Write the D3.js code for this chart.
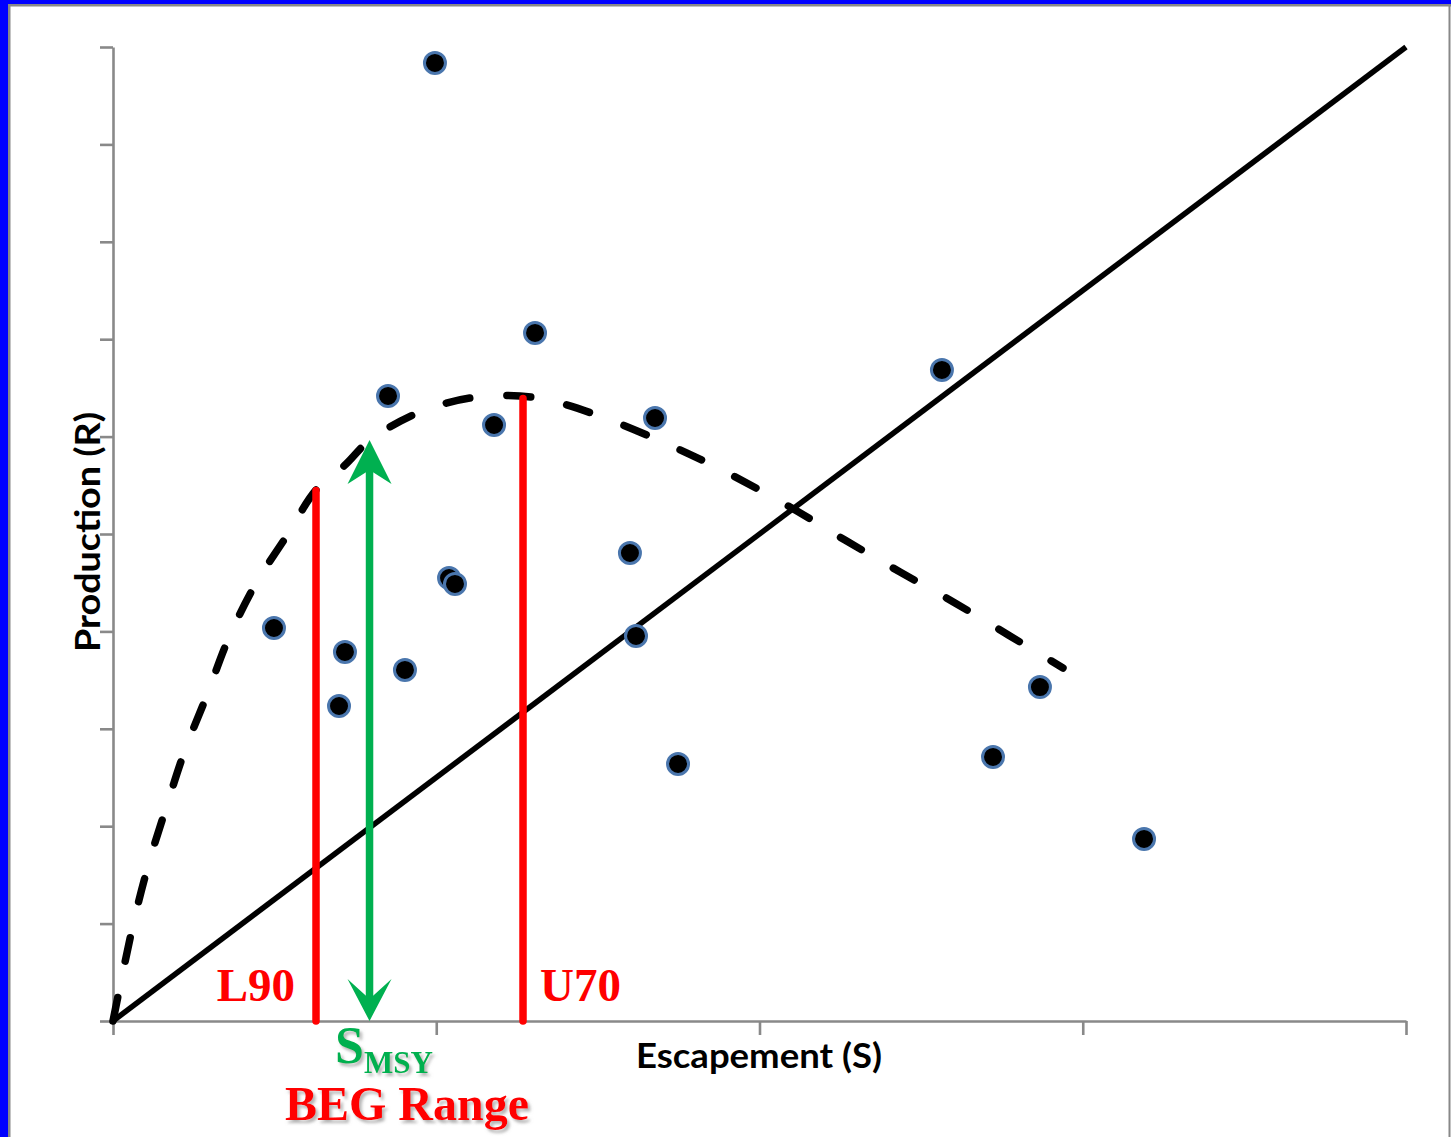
<!DOCTYPE html>
<html><head><meta charset="utf-8">
<script src="https://cdn.jsdelivr.net/npm/d3@7"></script>
<style>
html,body{margin:0;padding:0;background:#fff;}
svg{display:block;}
</style></head>
<body>
<script>
// ---- data ----
const escapement = [2490,3264,2127,2947,4192,6411,3998,2599,2645,1245,1794,2258,1748,4045,4370,6806,7169,7974];
const production = [9836,7064,6417,6119,6191,6684,4805,4548,4487,4035,3789,3604,3234,3953,2639,2711,3429,1869];
// fitted curve
const curveS = [0,155,271,410,557,727,889,1098,1353,1570,1794,1988,2374,2761,3148,3457,3844,4269,4694,5236,5661,6087,6512,6937,7347];
const curveR = [0,986,1591,2187,2782,3347,3912,4476,5000,5452,5708,5965,6253,6396,6417,6345,6170,5934,5667,5277,4938,4610,4292,3953,3624];
// replacement line
const replS = [0,10000];
const replR = [0,10000];
// goal markers
const goalNames = ["L90","SMSY","U70"];
const goalS = [1570,1984,3171];
const goalTopR = [5447,5965,6391];
// ticks
const xTicks = [0,2500,5000,7500,10000];
const yTicks = [0,1000,2000,3000,4000,5000,6000,7000,8000,9000,10000];

const W = 1451, H = 1137;
const svg = d3.select("body").append("svg").attr("width", W).attr("height", H);

const defs = svg.append("defs");
const f = defs.append("filter").attr("id","shadow").attr("x","-10%").attr("y","-20%").attr("width","130%").attr("height","160%");
f.append("feDropShadow").attr("dx",2.5).attr("dy",3).attr("stdDeviation",1.6).attr("flood-color","#777").attr("flood-opacity",0.55);

// frame
svg.append("rect").attr("x",0).attr("y",0).attr("width",W).attr("height",H).attr("fill","#fff");
svg.append("rect").attr("x",0).attr("y",0).attr("width",W).attr("height",4).attr("fill","#0000ff");
svg.append("rect").attr("x",0).attr("y",0).attr("width",8).attr("height",H).attr("fill","#0000ff");
svg.append("rect").attr("x",8).attr("y",4).attr("width",W-8).attr("height",2.5).attr("fill","#888");
svg.append("rect").attr("x",8).attr("y",4).attr("width",2.5).attr("height",H).attr("fill","#888");
svg.append("rect").attr("x",1448.5).attr("y",4).attr("width",2).attr("height",H).attr("fill","#888");

const x = d3.scaleLinear().domain([0,10000]).range([113,1406]);
const y = d3.scaleLinear().domain([0,10000]).range([1021,47]);

// axes
const axColor = "#898989";
const gy = svg.append("g").attr("transform","translate(113,0)")
  .call(d3.axisLeft(y).tickValues(yTicks).tickSize(13).tickSizeOuter(0).tickFormat(""));
const gx = svg.append("g").attr("transform","translate(0,1021)")
  .call(d3.axisBottom(x).tickValues(xTicks).tickSize(14).tickSizeOuter(0).tickFormat(""));
[gx,gy].forEach(g=>{
  g.selectAll("path,line").attr("stroke",axColor).attr("stroke-width",2.6);
});

// replacement line
const line = d3.line().x(d=>x(d[0])).y(d=>y(d[1]));
svg.append("path").attr("d", line(replS.map((s,i)=>[s,replR[i]])))
  .attr("fill","none").attr("stroke","#000").attr("stroke-width",5.5);

// dashed curve
const curveLine = d3.line().x(d=>x(d[0])).y(d=>y(d[1])).curve(d3.curveCatmullRom);
svg.append("path").attr("d", curveLine(curveS.map((s,i)=>[s,curveR[i]])))
  .attr("fill","none").attr("stroke","#000").attr("stroke-width",7.5)
  .attr("stroke-linecap","round").attr("stroke-dasharray","24,37");

// red goal lines
[0,2].forEach(i=>{
  svg.append("line").attr("x1",x(goalS[i])).attr("x2",x(goalS[i]))
    .attr("y1",y(0)).attr("y2",y(goalTopR[i]))
    .attr("stroke","#ff0000").attr("stroke-width",7.5).attr("stroke-linecap","round");
});

// green double arrow (SMSY)
const green = "#00b050";
const gxp = x(goalS[1]), gTop = y(goalTopR[1]), gBot = y(0);
svg.append("line").attr("x1",gxp).attr("x2",gxp).attr("y1",gTop+30).attr("y2",gBot-22)
  .attr("stroke",green).attr("stroke-width",7.5);
svg.append("path").attr("d",`M${gxp},${gTop} L${gxp+22},${gTop+44} L${gxp},${gTop+30} L${gxp-22},${gTop+44} Z`).attr("fill",green);
svg.append("path").attr("d",`M${gxp},${gBot} L${gxp+22},${gBot-42} L${gxp},${gBot-22} L${gxp-22},${gBot-42} Z`).attr("fill",green);

// points
svg.append("g").selectAll("circle").data(escapement.map((s,i)=>[s,production[i]])).join("circle")
  .attr("cx",d=>x(d[0])).attr("cy",d=>y(d[1])).attr("r",10.5)
  .attr("fill","#000").attr("stroke","#4a76ad").attr("stroke-width",3);

// labels
const serif = "'Liberation Serif','Times New Roman',serif";
svg.append("text").attr("x",x(goalS[0])-21).attr("y",1001).attr("text-anchor","end")
  .attr("font-family",serif).attr("font-weight","bold").attr("font-size",47).attr("fill","#ff0000").text(goalNames[0]);
svg.append("text").attr("x",x(goalS[2])+17).attr("y",1001).attr("text-anchor","start")
  .attr("font-family",serif).attr("font-weight","bold").attr("font-size",47).attr("fill","#ff0000").text(goalNames[2]);
const sm = svg.append("text").attr("x",335).attr("y",1063).attr("filter","url(#shadow)")
  .attr("font-family",serif).attr("font-weight","bold").attr("fill",green);
sm.append("tspan").attr("font-size",52).text("S");
sm.append("tspan").attr("font-size",31).attr("dy",10).text("MSY");
svg.append("text").attr("x",285).attr("y",1120).attr("filter","url(#shadow)")
  .attr("font-family",serif).attr("font-weight","bold").attr("font-size",48).attr("fill","#ff0000").text("BEG Range");

const sans = "Lato,'Open Sans',sans-serif";
svg.append("text").attr("x",636).attr("y",1068).attr("textLength",246).attr("lengthAdjust","spacingAndGlyphs")
  .attr("font-family",sans).attr("font-weight","bold").attr("font-size",35).attr("fill","#000").text("Escapement (S)");
svg.append("text").attr("transform","translate(100,532) rotate(-90)").attr("text-anchor","middle")
  .attr("textLength",240).attr("lengthAdjust","spacingAndGlyphs")
  .attr("font-family",sans).attr("font-weight","bold").attr("font-size",35).attr("fill","#000").text("Production (R)");
</script>
</body></html>
